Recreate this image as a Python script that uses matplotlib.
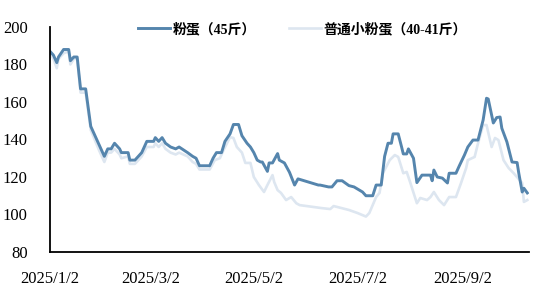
import matplotlib
matplotlib.use("Agg")
import matplotlib.pyplot as plt
import pandas as pd

plt.rcParams['font.family'] = ['Liberation Serif', 'Noto Sans CJK SC', 'DejaVu Sans']

start = pd.Timestamp('2025-01-02')

# 粉蛋（45斤）: days after 2025/1/2, price
days_a = [0, 2, 4, 5, 8, 11, 12, 14, 16, 18, 21, 24, 29, 32, 34, 36, 38, 41, 42, 46,
          47, 50, 52, 54, 57, 61, 62, 64, 66, 68, 71, 74, 76, 81, 84, 86, 88, 94, 96, 98,
          101, 103, 106, 108, 111, 113, 116, 118, 120, 122, 124, 125, 128, 129, 131, 134,
          135, 138, 141, 144, 146, 158, 159, 164, 166, 169, 172, 176, 179, 184, 186, 190,
          192, 195, 197, 199, 201, 202, 205, 207, 208, 210, 211, 214, 216, 219, 224, 225,
          226, 228, 231, 234, 235, 239, 241, 244, 246, 249, 252, 255, 257, 258, 261, 263,
          265, 266, 269, 272, 275, 276, 278, 279, 281]
price_a = [187, 185, 181, 184, 188, 188, 182, 184, 184, 167, 167, 147, 137, 131, 135, 135, 138, 135, 133, 133,
           129, 129, 131, 133, 139, 139, 141, 139, 141, 138, 136, 135, 136, 133, 131, 130, 126, 126, 130, 133,
           133, 139, 143, 148, 148, 142, 138, 136, 133, 129, 128, 128, 123, 127.5, 127.5, 132.5,
           129, 127.5, 122.5, 115.7, 119, 115.7, 115.7, 114.7, 114.7, 118, 118, 115.4, 114.7, 112, 110, 110,
           115.7, 115.7, 131, 138, 138, 143, 143, 136, 132.3, 132.3, 135, 130, 117, 121, 121, 118,
           123.7, 120, 119.4, 116.8, 122, 122, 126, 131.7, 136, 139.7, 139.7, 150.4, 162, 161.6, 148.8, 151.7,
           152, 146, 138.7, 128, 127.7, 122, 112, 114, 111.5]

# 普通小粉蛋（40-41斤）
days_b = [0, 2, 4, 5, 8, 11, 12, 14, 16, 18, 21, 24, 29, 32, 34, 36, 38, 41, 42, 46,
          47, 50, 52, 54, 57, 61, 62, 64, 66, 68, 71, 74, 76, 81, 84, 86, 88, 94, 97, 100,
          102, 106, 108, 110, 113, 115, 118, 120, 123, 126, 128, 131, 132, 134, 136, 139,
          142, 145, 147, 160, 165, 167, 176, 181, 186, 188, 192, 194, 196, 200, 203, 205,
          208, 210, 212, 216, 218, 222, 224, 226, 229, 232, 235, 239, 242, 245, 246, 250,
          252, 255, 257, 260, 262, 264, 267, 270, 273, 278, 279, 281]
price_b = [186, 183, 178, 183, 186, 187, 180, 183, 183, 165, 165, 145, 134, 128, 133, 133, 135, 132, 130, 131,
           127, 127, 129, 131, 136, 136, 138, 136, 138, 135, 133, 132, 133, 131, 128, 127, 124, 124, 129, 130,
           134, 141.3, 140.8, 136, 133, 127.5, 127.5, 120, 115.7, 112, 115.7, 121, 117.3, 113, 111.5, 107.7,
           109.3, 106, 105, 103.4, 102.9, 104.5, 102.4, 100.8, 98.9, 100.8, 109.3, 111.5, 122, 129, 131.7, 130.7,
           122, 122.7, 117.3, 106, 108.8, 107.7, 109.3, 112, 107.7, 105, 109.3, 109.3, 116.8, 124.8, 129, 130.7,
           138, 147.7, 147.7, 136, 140.8, 139.7, 129, 124.8, 122, 116.8, 106.7, 107.7]

label_a = '粉蛋（45斤）'
label_b = '普通小粉蛋（40-41斤）'
tick_dates = ['2025-01-02', '2025-03-02', '2025-05-02', '2025-07-02', '2025-09-02']
tick_labels = ['2025/1/2', '2025/3/2', '2025/5/2', '2025/7/2', '2025/9/2']

dates_a = start + pd.to_timedelta(days_a, unit='D')
dates_b = start + pd.to_timedelta(days_b, unit='D')

fig = plt.figure(figsize=(5.5, 3.02), dpi=100)
ax = fig.add_axes([0.0909, 0.1656, 0.8709, 0.745])

lb, = ax.plot(dates_b, price_b, color='#dde6f0', lw=1.9, label=label_b)
la, = ax.plot(dates_a, price_a, color='#5585ad', lw=2.1, label=label_a)

ax.set_ylim(80, 200)
ax.set_yticks(range(80, 201, 20))
ax.set_xlim(start, start + pd.Timedelta(days=282))
ax.set_xticks(pd.to_datetime(tick_dates))
ax.set_xticklabels(tick_labels)

for s in ['top', 'right']:
    ax.spines[s].set_visible(False)
for s in ['left', 'bottom']:
    ax.spines[s].set_linewidth(1.3)
    ax.spines[s].set_color('black')
ax.tick_params(axis='both', length=0, labelsize=12)
ax.tick_params(axis='y', pad=16)
ax.tick_params(axis='x', pad=14)

fig.legend(handles=[la, lb], loc='center', bbox_to_anchor=(0.55, 0.904), ncol=2,
           frameon=False, prop={'size': 10, 'weight': 'bold'}, handlelength=2.3,
           handletextpad=0.2, columnspacing=2.4)

fig.savefig('out.png', dpi=100)
